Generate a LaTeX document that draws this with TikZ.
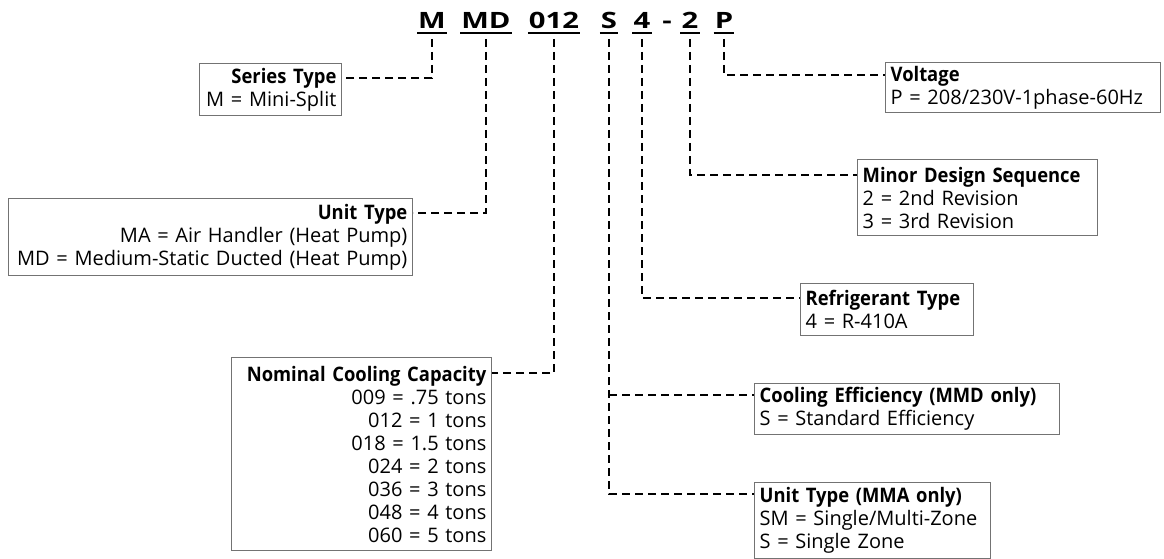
\documentclass[tikz,border=0pt]{standalone}
\usepackage{fontspec}
\setmainfont{Open Sans}
\newfontfamily\headfam[FakeStretch=0.92]{Open Sans}
\usepackage{graphicx}
\usetikzlibrary{positioning}

\newcommand{\bodyfnt}{\fontsize{20}{23}\selectfont}
\newcommand{\codefnt}{\fontsize{22.5}{24}\selectfont\bfseries}
\newcommand{\keyhead}[1]{{\headfam\bfseries #1}}

\tikzset{
  keybox/.style={draw=black!55, line width=1.3pt, font=\bodyfnt, inner xsep=5pt, inner ysep=3pt},
  leftkey/.style={keybox, anchor=north east, align=right},
  rightkey/.style={keybox, anchor=north west, align=left},
  code/.style={font=\codefnt, inner xsep=1pt, inner ysep=4pt, text depth=0pt, anchor=south},
  uline/.style={line width=2pt},
  lead/.style={line width=2pt, dash pattern=on 8pt off 5pt},
}

\begin{document}
\begin{tikzpicture}[x=1pt,y=-1pt]
	\useasboundingbox (0,0) rectangle (1164,559);

	% Model number
	\node[code] (cM) at (432,33) {\scalebox{1.3}[1]{M}};
	\node[code] (cMD) at (486,33) {\scalebox{1.3}[1]{MD}};
	\node[code] (c012) at (554,33) {\scalebox{1.3}[1]{012}};
	\node[code] (cS) at (609,33) {\scalebox{1.3}[1]{S}};
	\node[code] (c4) at (642,33) {\scalebox{1.3}[1]{4}};
	\node[code] (cdash) at (667,33) {\scalebox{1.3}[1]{-}};
	\node[code] (c2) at (690,33) {\scalebox{1.3}[1]{2}};
	\node[code] (cP) at (724,33) {\scalebox{1.3}[1]{P}};

	% Underlines
	\foreach \c in {cM,cMD,c012,cS,c4,c2,cP}
		\draw[uline] (\c.south west) -- (\c.south east);

	% Left keys
	\node[leftkey, text width=132pt, minimum height=52pt] (series) at (342,63)
		{\keyhead{Series Type}\\M = Mini-Split};
	\node[leftkey, text width=394pt, minimum height=77pt] (unit) at (413,198)
		{\keyhead{Unit Type}\\MA = Air Handler (Heat Pump)\\MD = Medium-Static Ducted (Heat Pump)};
	\node[leftkey, text width=250pt, minimum height=193pt] (cap) at (492,357)
		{\keyhead{Nominal Cooling Capacity}\\009 = .75 tons\\012 = 1 tons\\018 = 1.5 tons\\024 = 2 tons\\036 = 3 tons\\048 = 4 tons\\060 = 5 tons};

	% Right keys
	\node[rightkey, text width=265pt, minimum height=50pt] (volt) at (885,62)
		{\keyhead{Voltage}\\P = 208/230V-1phase-60Hz};
	\node[rightkey, text width=230pt, minimum height=76pt] (minor) at (857,159)
		{\keyhead{Minor Design Sequence}\\2 = 2nd Revision\\3 = 3rd Revision};
	\node[rightkey, text width=163pt, minimum height=52pt] (refr) at (800,283)
		{\keyhead{Refrigerant Type}\\4 = R-410A};
	\node[rightkey, text width=295pt, minimum height=51pt] (eff) at (754,383)
		{\keyhead{Cooling Efficiency (MMD only)}\\S = Standard Efficiency};
	\node[rightkey, text width=226pt, minimum height=76pt] (mma) at (754,482)
		{\keyhead{Unit Type (MMA only)}\\SM = Single/Multi-Zone\\S = Single Zone};

	% Leader entry points
	\coordinate (series-in) at ([yshift=-15pt]series.north east);
	\coordinate (unit-in) at ([yshift=-15pt]unit.north east);
	\coordinate (cap-in) at ([yshift=-16pt]cap.north east);
	\coordinate (volt-in) at ([yshift=-13pt]volt.north west);
	\coordinate (minor-in) at ([yshift=-16pt]minor.north west);
	\coordinate (refr-in) at ([yshift=-15pt]refr.north west);
	\coordinate (eff-in) at ([yshift=-12pt]eff.north west);
	\coordinate (mma-in) at ([yshift=-12pt]mma.north west);

	% Leaders
	\draw[lead] ([yshift=-6pt]cM.south) |- (series-in);
	\draw[lead] ([yshift=-6pt]cMD.south) |- (unit-in);
	\draw[lead] ([yshift=-6pt]c012.south) |- (cap-in);
	\draw[lead] ([yshift=-6pt]cS.south) |- (mma-in);
	\draw[lead] (cS.south |- eff-in) -- (eff-in);
	\draw[lead] ([yshift=-6pt]c4.south) |- (refr-in);
	\draw[lead] ([yshift=-6pt]c2.south) |- (minor-in);
	\draw[lead] ([yshift=-6pt]cP.south) |- (volt-in);
\end{tikzpicture}
\end{document}
